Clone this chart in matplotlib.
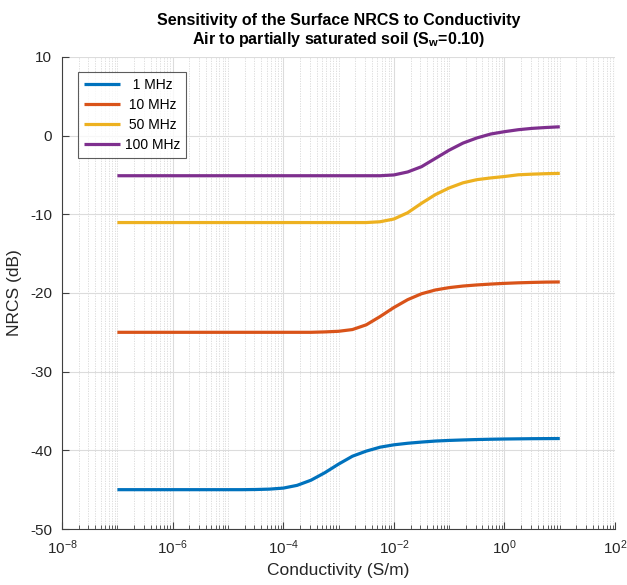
import matplotlib
matplotlib.use("Agg")
import matplotlib.pyplot as plt
from matplotlib.ticker import LogLocator, NullFormatter, FixedLocator

plt.rcParams['font.family'] = ['Liberation Sans', 'DejaVu Sans']
plt.rcParams['mathtext.fontset'] = 'custom'
plt.rcParams['mathtext.rm'] = 'Liberation Sans'
plt.rcParams['mathtext.bf'] = 'Liberation Sans:bold'
plt.rcParams['axes.unicode_minus'] = False

# sample points: log10 of conductivity (S/m)
log_conductivity = [-7.0, -6.75, -6.5, -6.25, -6.0, -5.75, -5.5, -5.25, -5.0, -4.75,
                    -4.5, -4.25, -4.0, -3.75, -3.5, -3.25, -3.0, -2.75, -2.5, -2.25,
                    -2.0, -1.75, -1.5, -1.25, -1.0, -0.75, -0.5, -0.25, 0.0, 0.25,
                    0.5, 0.75, 1.0]
nrcs_1mhz = [-45.0, -45.0, -45.0, -45.0, -45.0, -45.0, -45.0, -45.0, -45.0, -45.0,
             -44.98, -44.93, -44.8, -44.45, -43.8, -42.85, -41.75, -40.75, -40.1, -39.6,
             -39.3, -39.1, -38.95, -38.82, -38.74, -38.68, -38.63, -38.59, -38.56, -38.54,
             -38.52, -38.51, -38.5]
nrcs_10mhz = [-25.0, -25.0, -25.0, -25.0, -25.0, -25.0, -25.0, -25.0, -25.0, -25.0,
              -25.0, -25.0, -25.0, -25.0, -25.0, -24.95, -24.87, -24.65, -24.05, -23.0,
              -21.85, -20.85, -20.1, -19.62, -19.32, -19.12, -18.98, -18.87, -18.78, -18.71,
              -18.66, -18.62, -18.6]
nrcs_50mhz = [-11.05, -11.05, -11.05, -11.05, -11.05, -11.05, -11.05, -11.05, -11.05, -11.05,
              -11.05, -11.05, -11.05, -11.05, -11.05, -11.05, -11.05, -11.05, -11.05, -10.95,
              -10.6, -9.8, -8.6, -7.5, -6.65, -6.0, -5.6, -5.38, -5.2, -4.98,
              -4.9, -4.84, -4.8]
nrcs_100mhz = [-5.1, -5.1, -5.1, -5.1, -5.1, -5.1, -5.1, -5.1, -5.1, -5.1,
               -5.1, -5.1, -5.1, -5.1, -5.1, -5.1, -5.1, -5.1, -5.1, -5.1,
               -5.0, -4.62, -3.95, -2.9, -1.85, -0.95, -0.3, 0.2, 0.5, 0.75,
               0.92, 1.03, 1.12]
labels = ['  1 MHz', ' 10 MHz', ' 50 MHz', '100 MHz']
colors = ['#0072BD', '#D95319', '#EDB120', '#7E2F8E']

conductivity = [10.0 ** e for e in log_conductivity]

fig = plt.figure(figsize=(6.27, 5.85), dpi=100)
ax = fig.add_axes([0.099, 0.0957, 0.882, 0.807])

for y, lab, c in zip([nrcs_1mhz, nrcs_10mhz, nrcs_50mhz, nrcs_100mhz], labels, colors):
    ax.plot(conductivity, y, color=c, lw=2.3, label=lab, solid_capstyle='butt')

ax.set_xscale('log')
ax.set_xlim(1e-8, 1e2)
ax.set_ylim(-50, 10)
ax.xaxis.set_major_locator(FixedLocator([1e-8, 1e-6, 1e-4, 1e-2, 1e0, 1e2]))
ax.xaxis.set_minor_locator(LogLocator(base=10, subs=range(1, 10), numticks=30))
ax.xaxis.set_minor_formatter(NullFormatter())
ax.set_yticks(range(-50, 11, 10))

ax.grid(True, which='major', color='#dcdcdc', lw=0.8, ls='-')
ax.grid(True, which='minor', axis='x', color='#d8d8d8', lw=0.6, ls=(0, (1.5, 1.5)))
ax.set_axisbelow(True)

for s in ['top', 'right']:
    ax.spines[s].set_visible(False)
for s in ['left', 'bottom']:
    ax.spines[s].set_color('#404040')
    ax.spines[s].set_linewidth(0.8)
ax.tick_params(which='both', direction='in', colors='#404040', labelcolor='#262626',
               labelsize=11)
ax.tick_params(axis='y', which='major', length=5, pad=7)
ax.tick_params(axis='x', which='major', length=5, pad=7)
ax.tick_params(which='minor', length=3)

ax.set_xlabel('Conductivity (S/m)', fontsize=12.5, color='#262626', labelpad=4)
ax.set_ylabel('NRCS (dB)', fontsize=12.5, color='#262626', labelpad=6)
ax.set_title('Sensitivity of the Surface NRCS to Conductivity\n'
             r'Air to partially saturated soil (S$_\mathbf{w}$=0.10)',
             fontsize=11.5, fontweight='bold', color='black', pad=9)

leg = ax.legend(loc='upper left', bbox_to_anchor=(0.029, 0.968), fontsize=10,
                frameon=True, fancybox=False, handlelength=2.6, handletextpad=0.35,
                borderpad=0.4, labelspacing=0.45, borderaxespad=0)
leg.get_frame().set_edgecolor('#333333')
leg.get_frame().set_linewidth(0.8)

fig.savefig('out.png', dpi=100)
